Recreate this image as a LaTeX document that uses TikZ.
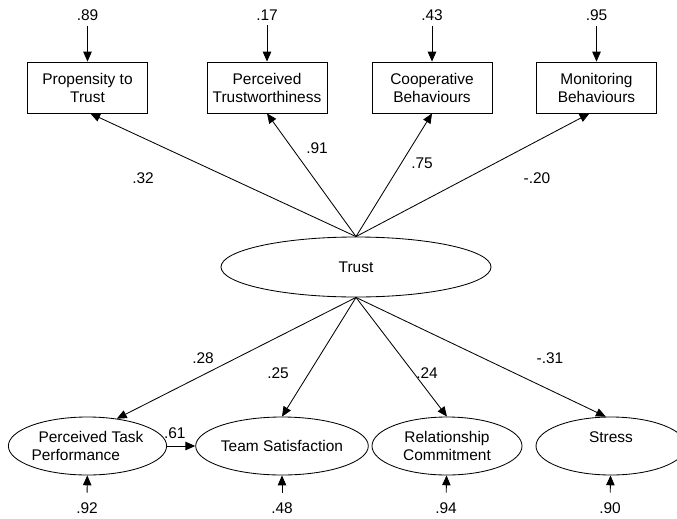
\documentclass[tikz,border=0pt]{standalone}
\usepackage{fontspec}
\setmainfont{Liberation Sans}
\usetikzlibrary{arrows.meta,shapes.geometric}
\tikzset{
  indicator/.style={draw, rectangle, minimum width=3cm, minimum height=1.275cm, inner sep=0pt, align=center},
  latent/.style={draw, ellipse, minimum width=3.75cm, minimum height=1.45cm, inner sep=0pt, align=center},
  effect/.style={-{Triangle[length=7pt,width=6pt]}},
}
\begin{document}
\begin{tikzpicture}[line width=0.6pt, font=\fontsize{11}{12.8}\selectfont]
\useasboundingbox (0,0) rectangle (16.925,12.95);
% trust indicators with their residuals
\node (e1) at (2.1875,12.575) {.89};
\node (e2) at (6.675,12.575) {.17};
\node (e3) at (10.8,12.575) {.43};
\node (e4) at (14.9125,12.575) {.95};
\node[indicator] (pt) at (2.1875,10.7625) {Propensity to\\Trust};
\node[indicator] (ptw) at (6.675,10.7625) {Perceived\\Trustworthiness};
\node[indicator] (cb) at (10.8,10.7625) {Cooperative\\Behaviours};
\node[indicator] (mb) at (14.9125,10.7625) {Monitoring\\Behaviours};
\draw[effect] (e1) -- (pt);
\draw[effect] (e2) -- (ptw);
\draw[effect] (e3) -- (cb);
\draw[effect] (e4) -- (mb);
\node[latent, minimum width=6.75cm, minimum height=1.5cm] (trust) at (8.9,6.275) {Trust};
\draw[effect] (trust.north) -- ([xshift=2pt]pt.south);
\draw[effect] (trust.north) -- (ptw.south);
\draw[effect] (trust.north) -- (cb.south);
\draw[effect] (trust.north) -- ([xshift=-5pt]mb.south);
\node (l32) at (3.575,8.5) {.32};
\node (l91) at (7.925,9.25) {.91};
\node (l75) at (10.55,8.875) {.75};
\node (l20) at (13.425,8.5) {-.20};
% outcomes
\node[latent, align=left] (ptp) at (2.1875,1.8) {\hspace*{5pt}Perceived Task\\Performance};
\node[latent] (ts) at (7.05,1.8) {Team Satisfaction};
\node[latent] (rc) at (11.175,1.8) {Relationship\\Commitment};
\node[latent] (st) at (15.275,1.8) {Stress\\\mbox{}};
\draw[effect] (trust.south) -- (ptp.43);
\draw[effect] (trust.south) -- (ts.north);
\draw[effect] (trust.south) -- (rc.north);
\draw[effect] (trust.south) -- (st.100);
\draw[effect] (ptp) -- (ts);
\node (l28) at (5.075,4.0) {.28};
\node (l25) at (6.95,3.625) {.25};
\node (l24) at (10.675,3.625) {.24};
\node (l31) at (13.75,4.0) {-.31};
\node (l61) at (4.37,2.125) {.61};
\node (r1) at (2.175,0.25) {.92};
\node (r2) at (7.05,0.25) {.48};
\node (r3) at (11.15,0.25) {.94};
\node (r4) at (15.25,0.25) {.90};
\draw[effect, shorten <=3.5pt] (r1) -- (ptp);
\draw[effect, shorten <=3.5pt] (r2) -- (ts);
\draw[effect, shorten <=3.5pt] (r3) -- (rc);
\draw[effect, shorten <=3.5pt] (r4) -- (st);
\end{tikzpicture}
\end{document}
